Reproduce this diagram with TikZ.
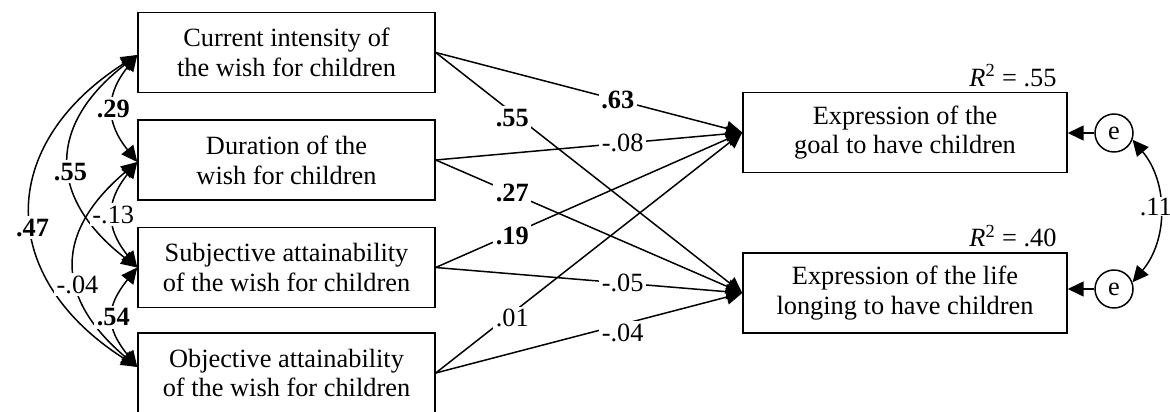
\documentclass[tikz,border=0pt]{standalone}
\usepackage{fontspec}
\setmainfont{Liberation Serif}
\usetikzlibrary{arrows.meta,calc}
\begin{document}
\begin{tikzpicture}[x=0.02cm,y=-0.02cm,
  txt/.style={font=\fontsize{15}{17}\selectfont},
  lbox/.style={draw, line width=0.85pt, minimum width=5.94cm, minimum height=1.6cm, align=center, inner sep=0pt, txt},
  rbox/.style={draw, line width=0.85pt, minimum width=6.48cm, minimum height=1.61cm, align=center, inner sep=0pt, txt},
  err/.style={draw, circle, line width=0.85pt, minimum size=0.76cm, inner sep=0pt, txt},
  tip/.tip={Triangle[length=0.32cm,width=0.3cm]},
  arr/.style={-tip, line width=0.85pt},
  biarr/.style={tip-tip, line width=0.85pt},
  lbl/.style={fill=white, inner sep=1.5pt, txt},
  rlbl/.style={inner sep=1pt, txt, anchor=south east}]
\useasboundingbox (0,0) rectangle (1170,412);

% predictor boxes
\node[lbox] (L1) at (286.5,52.5) {Current intensity of\\the wish for children};
\node[lbox] (L2) at (286.5,160) {Duration of the\\wish for children};
\node[lbox] (L3) at (286.5,267.5) {Subjective attainability\\of the wish for children};
\node[lbox] (L4) at (286.5,373) {Objective attainability\\of the wish for children};

% outcome boxes
\node[rbox] (R1) at (905,132.5) {Expression of the\\goal to have children};
\node[rbox] (R2) at (905,293) {Expression of the life\\longing to have children};

\node[rlbl] (r1) at ($(R1.north east)+(-9,-3)$) {\textit{R}\textsuperscript{2} = .55};
\node[rlbl] (r2) at ($(R2.north east)+(-9,-3)$) {\textit{R}\textsuperscript{2} = .40};

% error terms
\node[err] (e1) at (1114,133) {e};
\node[err] (e2) at (1114,289) {e};
\draw[arr] (e1) -- (e1 -| R1.east);
\draw[arr] (e2) -- (e2 -| R2.east);
\draw[biarr] (e1.-20) to[bend left=40] node[lbl, pos=0.47, inner sep=0.5pt, xshift=-2pt] {.11} (e2.20);

% paths
\draw[arr] (L1.east) -- node[lbl, pos=0.594] {\textbf{.63}} (R1.west);
\draw[arr] (L1.east) -- node[lbl, pos=0.25, yshift=-3pt] {\textbf{.55}} (R2.west);
\draw[arr] (L2.east) -- node[lbl, pos=0.61] {-.08} (R1.west);
\draw[arr] (L2.east) -- node[lbl, pos=0.25] {\textbf{.27}} (R2.west);
\draw[arr] (L3.east) -- node[lbl, pos=0.25, yshift=-1pt] {\textbf{.19}} (R1.west);
\draw[arr] (L3.east) -- node[lbl, pos=0.61] {-.05} (R2.west);
\draw[arr] (L4.east) -- node[lbl, pos=0.25, yshift=-3pt] {.01} (R1.west);
\draw[arr] (L4.east) -- node[lbl, pos=0.61, yshift=-5pt] {-.04} (R2.west);

% correlations
\coordinate (P1) at ($(L1.west)+(0,2.5)$);
\coordinate (P2) at ($(L2.west)+(0,2)$);
\coordinate (P3) at (L3.west);
\coordinate (P4) at ($(L4.west)+(0,-6)$);

\draw[biarr] (P1) .. controls +(-32,40) and +(-32,-40) .. (P2) node[lbl, pos=0.5] {\textbf{.29}};
\draw[biarr] (P1) .. controls +(-90,70) and +(-90,-70) .. (P3) node[lbl, pos=0.55] {\textbf{.55}};
\draw[biarr] (P2) .. controls +(-32,40) and +(-32,-40) .. (P3) node[lbl, pos=0.5] {-.13};
\draw[biarr] (P1) .. controls +(-141,90) and +(-141,-90) .. (P4) node[lbl, pos=0.55] {\textbf{.47}};
\draw[biarr] (P2) .. controls +(-83,70) and +(-83,-70) .. (P4) node[lbl, pos=0.6] {-.04};
\draw[biarr] (P3) .. controls +(-32,40) and +(-32,-40) .. (P4) node[lbl, pos=0.5] {\textbf{.54}};
\end{tikzpicture}
\end{document}
